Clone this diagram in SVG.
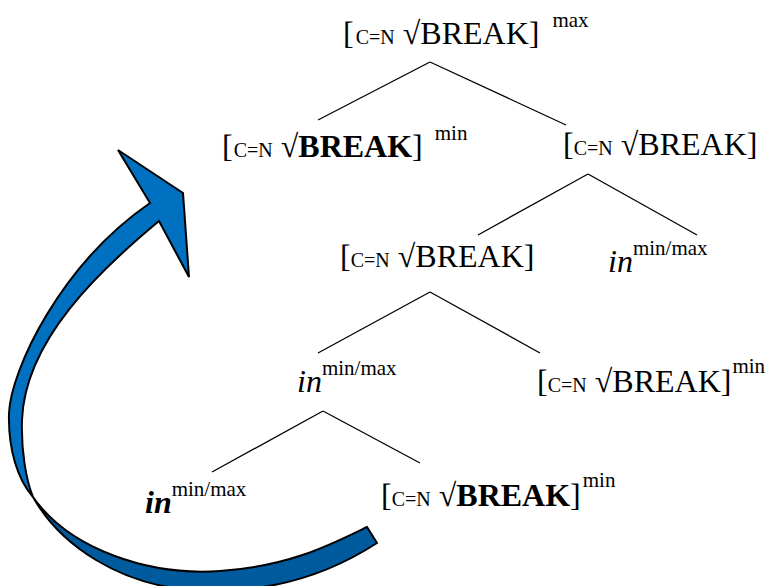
<svg xmlns="http://www.w3.org/2000/svg" width="772" height="586" viewBox="0 0 772 586">
  <style>
    .t { font-family: "Liberation Serif", "Times New Roman", serif; font-size: 32px; fill: #000; }
    .sc { font-size: 20px; }
    .sup { font-size: 21px; }
    .bd { font-weight: bold; }
    .it { font-style: italic; }
    .edge { stroke: #000; stroke-width: 1.3; fill: none; }
    .ribbon { stroke: #000; stroke-width: 2; stroke-linejoin: miter; }
  </style>

  <rect width="772" height="586" fill="#fff"/>

  <!-- curved ribbon arrow: back face (darker) and front face with head -->
  <g id="movement-arrow">
    <path class="ribbon" fill="#005A9E" d="M33,497 C70,550 150,576 220,571 C290,566 330,545 367,527 L377,543 C320,580 260,594 195,590 C120,586 60,545 33,497 Z"/>
    <path class="ribbon" fill="#0070C0" d="M150,203 L118,150 L183,193 L189,277 L159,221 C100,270 25,340 22,420 C21,450 26,480 33,497 C18,480 8,450 9,413 C11,370 60,265 150,203 Z"/>
  </g>

  <!-- tree branches -->
  <g id="connectors">
    <line class="edge" x1="430" y1="62" x2="318" y2="120"/>
    <line class="edge" x1="430" y1="62" x2="566" y2="125"/>
    <line class="edge" x1="588" y1="174" x2="478" y2="235"/>
    <line class="edge" x1="588" y1="174" x2="697" y2="235"/>
    <line class="edge" x1="430" y1="292" x2="318" y2="353"/>
    <line class="edge" x1="430" y1="292" x2="540" y2="353"/>
    <line class="edge" x1="323" y1="411" x2="212" y2="472"/>
    <line class="edge" x1="323" y1="411" x2="420" y2="463"/>
  </g>

  <g id="n1">
    <text class="t" x="343" y="44">[<tspan class="sc" dx="2">C=N</tspan> √BREAK] <tspan class="sup" dx="5" dy="-17">max</tspan></text>
  </g>
  <g id="n2">
    <text class="t" x="222" y="157">[<tspan class="sc" dx="1">C=N</tspan> √<tspan class="bd">BREAK</tspan>] <tspan class="sup" dx="4" dy="-17">min</tspan></text>
  </g>
  <g id="n3">
    <text class="t" x="563" y="155">[<tspan class="sc">C=N</tspan> √BREAK]</text>
  </g>
  <g id="n4">
    <text class="t" x="340" y="267">[<tspan class="sc">C=N</tspan> √BREAK]</text>
  </g>
  <g id="n5">
    <text class="t" x="608" y="272"><tspan class="it">in</tspan><tspan class="sup" dy="-17">min/max</tspan></text>
  </g>
  <g id="n6">
    <text class="t" x="297" y="392"><tspan class="it">in</tspan><tspan class="sup" dy="-17">min/max</tspan></text>
  </g>
  <g id="n7">
    <text class="t" x="537" y="392">[<tspan class="sc">C=N</tspan> √BREAK]<tspan class="sup" dx="1" dy="-19">min</tspan></text>
  </g>
  <g id="n8">
    <text class="t" x="145" y="513"><tspan class="it bd">in</tspan><tspan class="sup" dy="-17">min/max</tspan></text>
  </g>
  <g id="n9">
    <text class="t" x="381" y="506">[<tspan class="sc">C=N</tspan> √<tspan class="bd">BREAK</tspan>]<tspan class="sup" dx="2" dy="-19">min</tspan></text>
  </g>
</svg>
